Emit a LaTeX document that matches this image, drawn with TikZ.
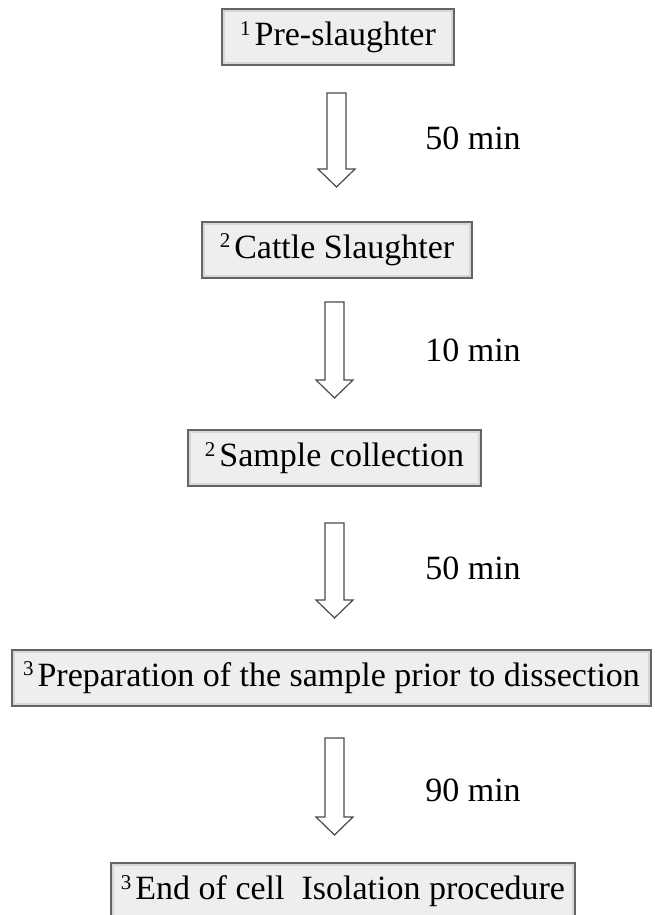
\documentclass[tikz,border=0pt]{standalone}
\usepackage{fontspec}
\setmainfont{Liberation Serif}
\newcommand{\stepnum}[1]{\raisebox{10.5pt}{\fontsize{21}{21}\selectfont #1}\hspace{4pt}}
\definecolor{boxfill}{HTML}{EEEEEE}
\definecolor{boxedge}{HTML}{646464}
\definecolor{boxshade}{HTML}{D6D6D6}
\definecolor{arrowedge}{HTML}{4A4A4A}
\tikzset{
  stagebox/.style={draw=boxedge, line width=2pt, fill=boxfill, minimum height=56pt,
    inner xsep=2pt, inner ysep=0pt, text=black,
    font=\fontsize{34}{40}\selectfont,
    path picture={\draw[boxshade, line width=6pt]
      (path picture bounding box.south west) rectangle (path picture bounding box.north east);}},
  timelabel/.style={font=\fontsize{34}{40}\selectfont, text=black, inner sep=0pt},
  arrowline/.style={draw=arrowedge, line width=1.2pt, fill=white, line join=miter},
  pics/hollowdown/.style={code={
    \draw[arrowline] (-9.5,0) -- (9.5,0) -- (9.5,#1-18) -- (18.5,#1-18) -- (0,#1)
      -- (-18.5,#1-18) -- (-9.5,#1-18) -- cycle;}}
}
\begin{document}
\begin{tikzpicture}[x=1pt,y=-1pt]
\useasboundingbox[fill=white] (0,0) rectangle (654,915);

\node[stagebox, minimum width=232pt] (b1) at (338,37) {\stepnum{1}Pre-slaughter};
\node[stagebox, minimum width=270pt] (b2) at (337,249.5) {\stepnum{2}Cattle Slaughter};
\node[stagebox, minimum width=293pt] (b3) at (334.5,458) {\stepnum{2}Sample collection};
\node[stagebox, minimum width=639pt] (b4) at (331.5,677.5) {\stepnum{3}Preparation of the sample prior to dissection};
\node[stagebox, minimum width=464pt] (b5) at (343,891) {\stepnum{3}End of cell\ \ Isolation procedure};

\coordinate (a1) at (336.5,93);
\coordinate (a2) at (334.5,302);
\coordinate (a3) at (334.5,523);
\coordinate (a4) at (334.5,738);
\pic at (a1) {hollowdown=94};
\pic at (a2) {hollowdown=96};
\pic at (a3) {hollowdown=95};
\pic at (a4) {hollowdown=97};

\node[timelabel] (t1) at (473,138) {50 min};
\node[timelabel] (t2) at (473,350) {10 min};
\node[timelabel] (t3) at (473,568) {50 min};
\node[timelabel] (t4) at (473,790) {90 min};
\end{tikzpicture}
\end{document}
